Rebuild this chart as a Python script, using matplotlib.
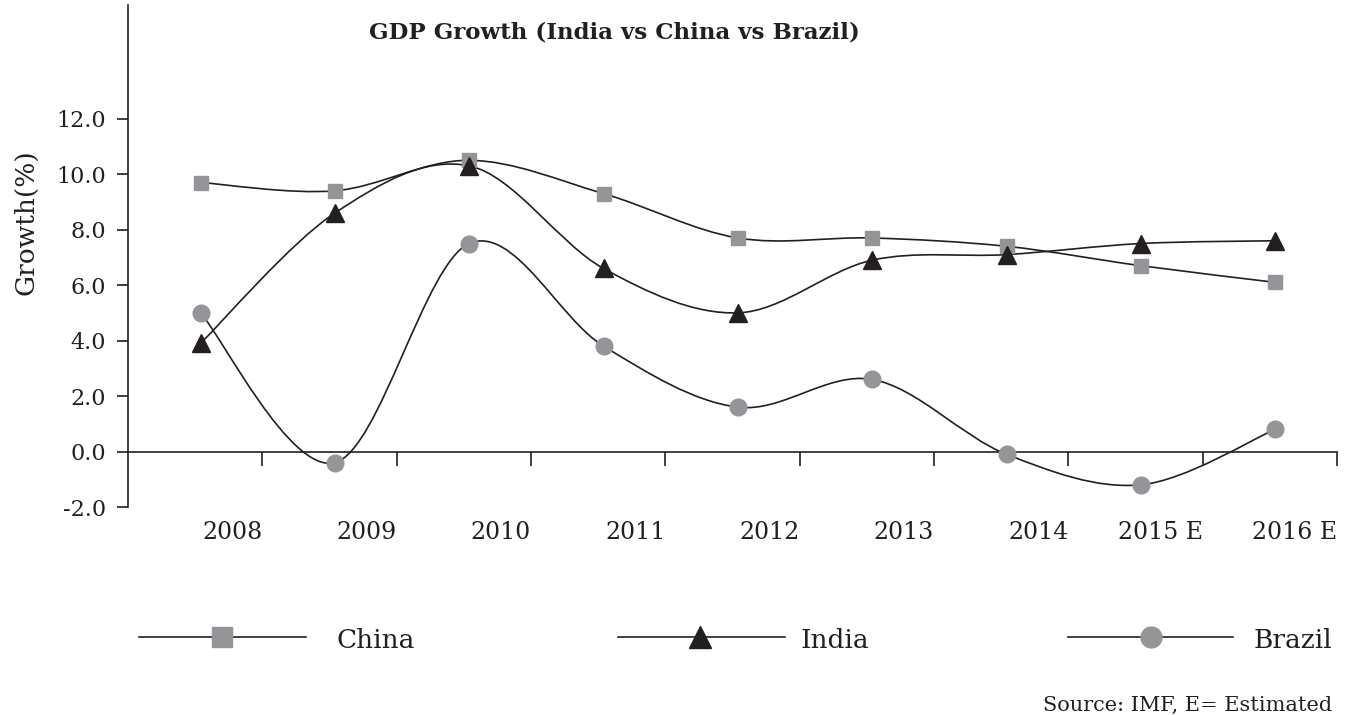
import matplotlib
matplotlib.use("Agg")
import matplotlib.pyplot as plt
import numpy as np
from matplotlib.path import Path
from matplotlib.patches import PathPatch
from matplotlib.lines import Line2D

years = ["2008", "2009", "2010", "2011", "2012", "2013", "2014", "2015 E", "2016 E"]
china = [9.7, 9.4, 10.5, 9.3, 7.7, 7.7, 7.4, 6.7, 6.1]
india = [3.9, 8.6, 10.3, 6.6, 5.0, 6.9, 7.1, 7.5, 7.6]
brazil = [5.0, -0.4, 7.5, 3.8, 1.6, 2.6, -0.1, -1.2, 0.8]
yticks = [-2, 0, 2, 4, 6, 8, 10, 12]
ytick_labels = ["-2.0", "0.0", "2.0", "4.0", "6.0", "8.0", "10.0", "12.0"]
series_names = ["China", "India", "Brazil"]

FONT = "DejaVu Serif"
LINE = "#231f20"
GRAY = "#939598"

fig = plt.figure(figsize=(13.53, 7.15), dpi=100)
ax = fig.add_axes([128/1353, 208/715, (1337-128)/1353, (710-208)/715])
ax.set_xlim(-0.5, len(years) - 0.5)
ax.set_ylim(-2, 16.1)


def smooth_path(xs, ys):
    P = np.column_stack([xs, ys]).astype(float)
    n = len(P)
    verts = [P[0]]
    codes = [Path.MOVETO]
    for i in range(n - 1):
        p_prev = P[i - 1] if i > 0 else P[i]
        p_next2 = P[i + 2] if i + 2 < n else P[i + 1]
        c1 = P[i] + (P[i + 1] - p_prev) / 6.0
        c2 = P[i + 1] - (p_next2 - P[i]) / 6.0
        verts += [c1, c2, P[i + 1]]
        codes += [Path.CURVE4] * 3
    return Path(verts, codes)


xs = np.arange(len(years)) + 0.04
styles = {
    "China": dict(marker="s", color=GRAY, ms=10),
    "India": dict(marker="^", color=LINE, ms=13),
    "Brazil": dict(marker="o", color=GRAY, ms=12),
}
for name, vals in zip(series_names, [china, india, brazil]):
    ax.add_patch(PathPatch(smooth_path(xs, vals), fill=False, edgecolor=LINE,
                           lw=1.2, zorder=2))
for name, vals in zip(series_names, [china, india, brazil]):
    st = styles[name]
    ax.plot(xs, vals, linestyle="none", marker=st["marker"], ms=st["ms"],
            markerfacecolor=st["color"], markeredgecolor=st["color"], zorder=3)

# spines
for s in ["top", "right"]:
    ax.spines[s].set_visible(False)
ax.spines["bottom"].set_position(("data", 0))
ax.spines["left"].set_color(LINE)
ax.spines["bottom"].set_color(LINE)
ax.spines["left"].set_linewidth(1.2)
ax.spines["bottom"].set_linewidth(1.2)

ax.set_yticks(yticks)
ax.set_yticklabels(ytick_labels, fontfamily=FONT, fontsize=16, color=LINE)
ax.tick_params(axis="y", direction="out", length=8, width=1.2, color=LINE, pad=8)

ax.set_xticks(np.arange(len(years)) + 0.5)
ax.set_xticklabels([])
ax.tick_params(axis="x", direction="out", length=10, width=1.2, color=LINE)
for i, lab in enumerate(years):
    ax.text(i + 0.5, -2.5, lab, ha="right", va="top", fontfamily=FONT,
            fontsize=17, color=LINE,
            transform=ax.transData)

fig.text(26/1353, 1 - 222/715, "Growth(%)", rotation=90, ha="center",
         va="center", fontfamily=FONT, fontsize=19, color=LINE)

fig.text(614/1353, 1 - 33/715, "GDP Growth (India vs China vs Brazil)",
         ha="center", va="center", fontfamily=FONT, fontweight="bold",
         fontsize=16.5, color=LINE)

# legend (manual)
leg_y = 1 - 637/715
leg = [("China", 139, 306, 222, "s", GRAY, 15, 337),
       ("India", 618, 785, 700, "^", LINE, 16, 800),
       ("Brazil", 1068, 1233, 1151, "o", GRAY, 15, 1254)]
for name, x0, x1, xm, mk, col, ms, xt in leg:
    fig.add_artist(Line2D([x0/1353, x1/1353], [leg_y, leg_y], color=LINE, lw=1.2,
                          transform=fig.transFigure))
    fig.add_artist(Line2D([xm/1353], [leg_y], marker=mk, ms=ms, color=col,
                          markeredgecolor=col, linestyle="none",
                          transform=fig.transFigure))
    fig.text(xt/1353, 1 - 640/715, name, ha="left", va="center", fontfamily=FONT,
             fontsize=19, color=LINE)

fig.text(1332/1353, 1 - 705/715, "Source: IMF, E= Estimated", ha="right",
         va="center", fontfamily=FONT, fontsize=15, color=LINE)

fig.savefig("out.png", dpi=100)
